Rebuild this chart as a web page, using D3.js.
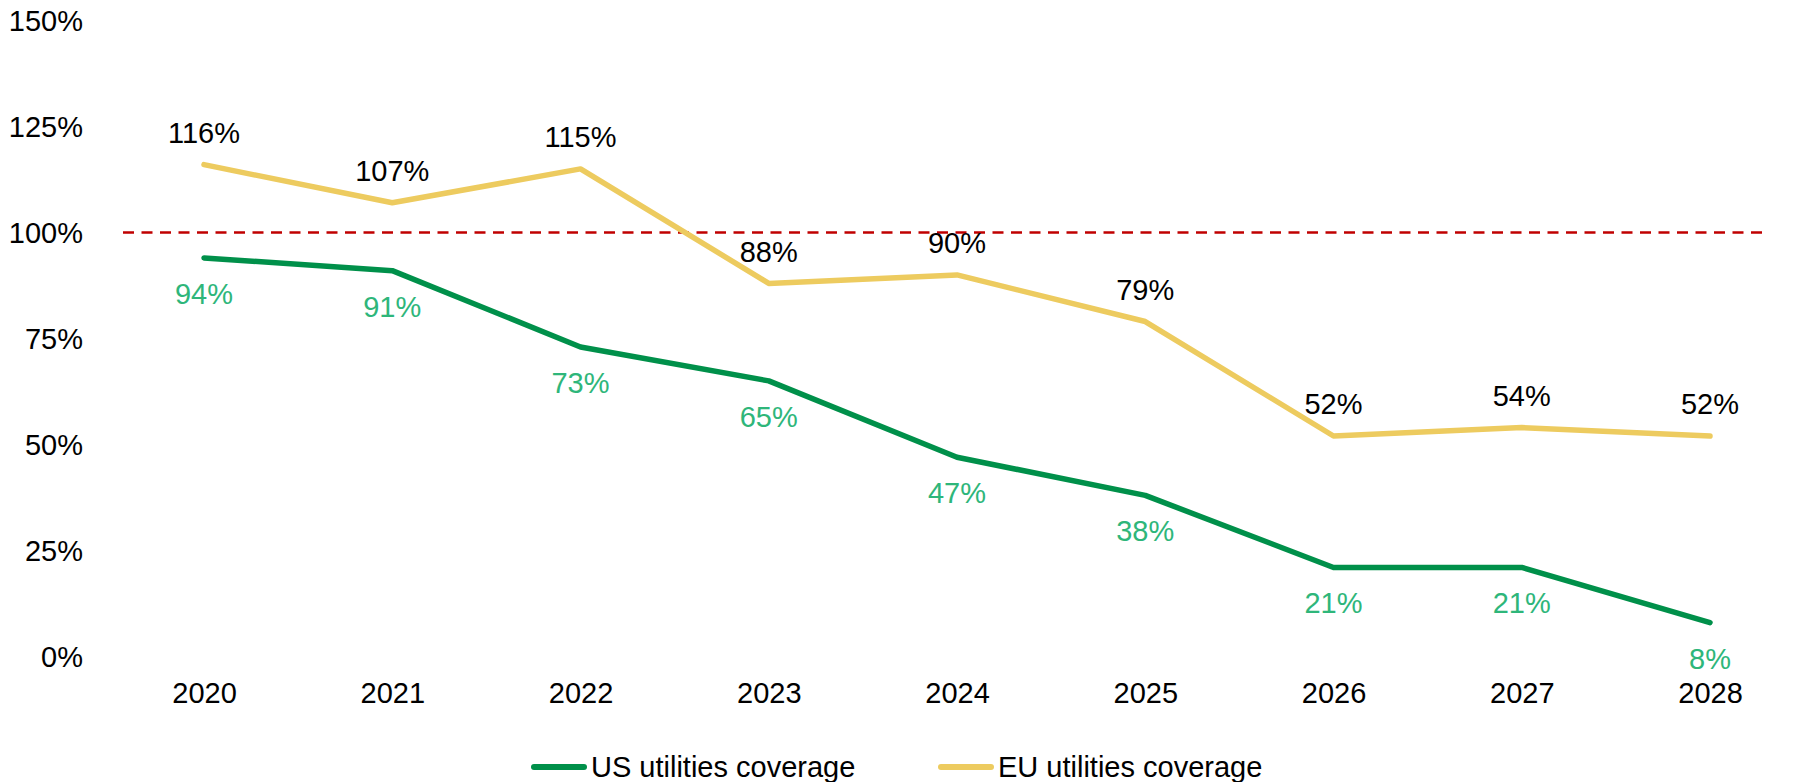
<!DOCTYPE html>
<html>
<head>
<meta charset="utf-8">
<script src="https://cdn.jsdelivr.net/npm/d3@7"></script>
<style>
  html, body { margin: 0; padding: 0; background: #fff; }
  svg { display: block; }
  text { font-family: "Liberation Sans", Arial, sans-serif; }
</style>
</head>
<body>
<svg id="chart" width="1808" height="782"></svg>
<script>
const categories = ["2020", "2021", "2022", "2023", "2024", "2025", "2026", "2027", "2028"];
const usCoverage = [94, 91, 73, 65, 47, 38, 21, 21, 8];
const euCoverage = [116, 107, 115, 88, 90, 79, 52, 54, 52];
const yTicks = [0, 25, 50, 75, 100, 125, 150];
const thresholdValue = 100;
const seriesNames = ["US utilities coverage", "EU utilities coverage"];

const W = 1808, H = 782;
const FS = 29;
const svg = d3.select("#chart");

const x = d3.scalePoint().domain(categories).range([204, 1710]);
const y = d3.scaleLinear().domain([0, 150]).range([656.5, 20.5]);

const green = "#00904A", yellow = "#EDCB5F", greenLabel = "#2EB67A", red = "#C00000";

// y axis labels
const yAxis = d3.axisLeft(y).tickValues(yTicks).tickFormat(d => d + "%").tickSize(0).tickPadding(0);
const ya = svg.append("g").attr("transform", "translate(83,0)").call(yAxis);
ya.select(".domain").remove();
ya.selectAll("text").attr("font-size", FS).attr("fill", "#000")
  .attr("font-family", "Liberation Sans, Arial, sans-serif").attr("dy", "0.36em");

// x axis labels
const xAxis = d3.axisBottom(x).tickSize(0).tickPadding(0);
const xa = svg.append("g").attr("transform", "translate(0,0)").call(xAxis);
xa.select(".domain").remove();
xa.selectAll("text").attr("font-size", FS).attr("fill", "#000")
  .attr("font-family", "Liberation Sans, Arial, sans-serif")
  .attr("y", 702.5).attr("dy", null);

// threshold dashed line
svg.append("line")
  .attr("x1", 123).attr("x2", 1764)
  .attr("y1", y(thresholdValue)).attr("y2", y(thresholdValue))
  .attr("stroke", red).attr("stroke-width", 2.6)
  .attr("stroke-dasharray", "11,7.5");

const line = d3.line().x((d, i) => x(categories[i])).y(d => y(d));

svg.append("path").datum(euCoverage)
  .attr("d", line).attr("fill", "none").attr("stroke", yellow)
  .attr("stroke-width", 5.5).attr("stroke-linecap", "round").attr("stroke-linejoin", "round");

svg.append("path").datum(usCoverage)
  .attr("d", line).attr("fill", "none").attr("stroke", green)
  .attr("stroke-width", 5.5).attr("stroke-linecap", "round").attr("stroke-linejoin", "round");

// data labels
const capHalf = 0.36 * FS;
svg.append("g").selectAll("text").data(euCoverage).join("text")
  .attr("x", (d, i) => x(categories[i]))
  .attr("y", d => y(d) - 32 + capHalf)
  .attr("text-anchor", "middle").attr("font-size", FS).attr("fill", "#000")
  .text(d => d + "%");

svg.append("g").selectAll("text").data(usCoverage).join("text")
  .attr("x", (d, i) => x(categories[i]))
  .attr("y", d => y(d) + 35.5 + capHalf)
  .attr("text-anchor", "middle").attr("font-size", FS).attr("fill", greenLabel)
  .text(d => d + "%");

// legend
const legendItems = [
  { name: seriesNames[0], color: green, x: 531 },
  { name: seriesNames[1], color: yellow, x: 938 }
];
const lg = svg.append("g");
legendItems.forEach(it => {
  lg.append("line").attr("x1", it.x + 3).attr("x2", it.x + 53)
    .attr("y1", 767).attr("y2", 767)
    .attr("stroke", it.color).attr("stroke-width", 6).attr("stroke-linecap", "round");
  lg.append("text").attr("x", it.x + 60).attr("y", 776.5)
    .attr("font-size", FS).attr("fill", "#000").text(it.name);
});
</script>
</body>
</html>
